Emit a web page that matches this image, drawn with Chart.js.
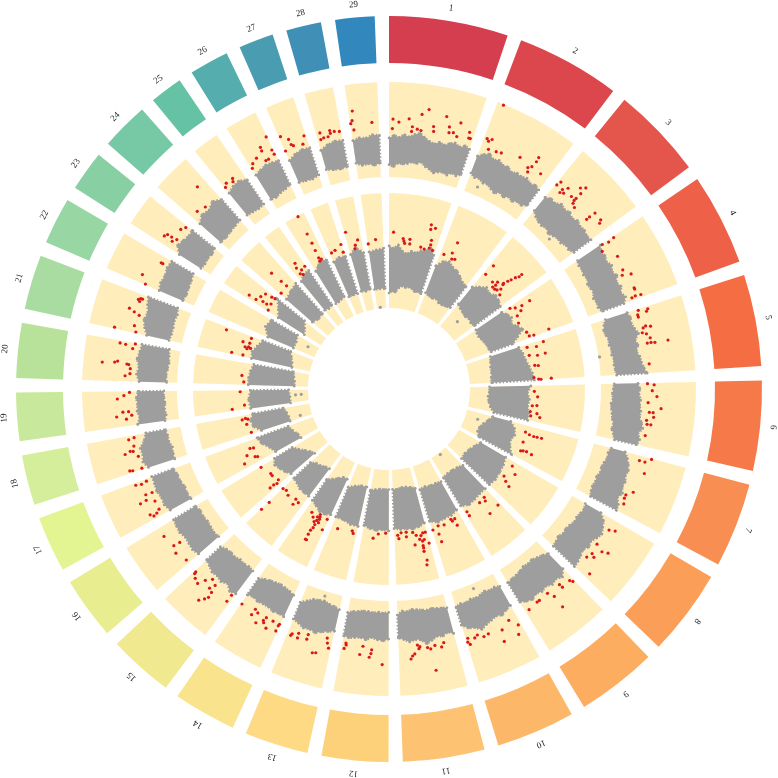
<!DOCTYPE html>
<html><head><meta charset="utf-8"><style>html,body{margin:0;background:#fff}canvas{display:block}</style>
<script src="https://cdn.jsdelivr.net/npm/chart.js@4"></script></head><body>
<canvas id="c" width="778" height="778"></canvas>
<script>
// chromosome lengths (Mb) and the gap between them
const chrLabels=['1','2','3','4','5','6','7','8','9','10','11','12','13','14','15','16','17','18','19','20','21','22','23','24','25','26','27','28','29'];
const chrLen=[156,136.2,121,120,120.1,117.8,110.7,113.3,105.5,103.3,107,87.2,83.5,82.4,85,81.9,73.2,65.8,63.4,72,71.6,61.4,52.5,62.7,42.9,51.7,45.6,45.9,51.5];
const chrGap=18.5;
const chrColors=['#D53E4F','#DC474E','#E4554B','#EE6148','#F46D43','#F67A49','#F98E52','#FB9E58','#FDAD60','#FDB768','#FDC272','#FDD07A','#FDDA83','#F9E48D','#F0E98F','#E8EE8F','#E3F592','#D5EE9B','#C8E99B','#B8E29A','#A9DCA0','#98D6A4','#88CFA4','#77C8A4','#66C2A5','#55AEAD','#4A9DB0','#3F8FB7','#3288BD'];

// grey band envelope per chromosome, outer track (0-10 scale)
const outerHi=[
[4.1,4.4,4.2,4.5,4.3,4.6,4.8,4.4,4.1,3.9,4.2,4.0,4.3,4.5,4.2,4.5,4.3],
[3.9,4.3,4.6,4.2,4.4,4.1,4.2,3.9,4.1,4.0,4.2,3.9,4.1,3.9],
[3.7,4.0,3.9,4.3,4.1,4.3,4.0,4.3,4.1,4.2,4.0,4.1],
[4.6,4.3,4.4,4.2,4.5,4.2,4.5,4.1,4.4,4.1,4.4,4.0],
[4.0,4.2,4.1,4.3,4.6,4.1,4.3,4.0,4.3,4.4,4.6,4.9],
[3.9,4.1,4.0,4.2,4.1,4.3,4.2,4.5,4.7,4.3,4.6,4.4],
[3.4,3.8,4.1,4.3,4.2,4.4,4.3,4.6,4.3,4.7,4.8],
[3.5,4.2,4.5,4.8,4.6,4.3,4.5,4.2,4.4,4.6,4.7],
[4.0,4.6,4.3,4.5,4.2,4.4,4.2,4.5,4.3,4.0],
[3.8,4.0,4.3,4.1,4.3,4.5,4.8,4.4,4.2,3.7],
[4.3,4.0,4.3,4.2,4.5,4.8,4.3,4.2,4.4,4.1,3.9],
[4.0,4.2,4.1,3.9,4.2,4.0,4.1,4.2,4.1],
[3.8,4.0,4.2,4.5,4.3,4.4,4.1,3.9],
[4.1,4.0,4.1,3.9,3.9,4.0,3.8,4.0],
[4.6,4.8,4.3,4.6,4.4,4.5,4.2,4.0],
[4.2,4.4,4.3,4.2,4.4,4.3,4.2],
[4.0,4.3,4.2,4.4,4.3,4.3],
[4.3,4.7,4.5,4.6,4.0,3.7],
[4.4,4.1,4.3,4.2,4.3,4.1],
[4.0,4.3,4.1,4.4,4.2,4.1],
[3.8,4.2,4.5,4.3,4.6,4.8],
[4.0,4.2,4.1,4.3,4.2],
[3.9,4.6,4.4,4.2,4.3],
[4.1,4.6,4.4,4.8,4.3],
[4.3,4.6,4.7,4.3],
[4.2,4.4,4.6,4.5,4.4],
[3.9,4.3,4.5,4.4],
[3.8,4.2,4.4,4.3],
[4.1,4.3,4.2,4.5,4.4]
];
const outerLo=[
[1.3,1.1,1.5,1.4,1.5,1.7,1.6,1.8,1.4,1.2,0.9,1.1,1.2,1.0,1.4,1.2,1.5],
[2.0,1.7,1.8,1.5,1.6,1.3,1.1,1.4,1.2,1.5,1.3,1.6,1.5,1.9],
[1.9,1.5,1.3,1.2,1.4,1.1,1.3,1.5,1.4,1.7,1.6,1.9],
[1.7,1.5,1.6,1.4,1.6,1.3,1.4,1.5,1.2,1.4,1.3,1.6],
[1.6,1.3,1.1,1.2,1.4,1.3,1.5,1.4,1.6,1.5,1.6,1.7],
[1.4,1.3,1.2,1.3,1.1,1.2,1.3,1.4,1.6,1.5,1.8,2.0],
[1.9,1.7,1.8,1.6,1.5,1.6,1.4,1.5,1.4,1.5,1.7],
[1.6,1.8,1.7,1.6,1.7,1.5,1.4,1.5,1.3,1.5,1.6],
[1.8,1.5,1.3,1.1,1.2,1.1,1.3,1.4,1.5,1.6],
[1.5,1.3,1.4,1.2,1.4,1.5,1.4,1.6,1.5,1.7],
[1.5,1.4,1.3,1.2,1.3,1.2,1.1,1.0,1.2,1.1,1.5],
[1.2,1.3,1.2,1.3,1.2,1.2,1.3,1.4,1.6],
[1.5,1.3,1.2,1.0,1.1,1.2,1.6,2.0],
[1.6,1.4,1.3,1.2,1.3,1.4,1.6,1.9],
[1.6,1.5,1.6,1.5,1.7,1.6,1.7,2.0],
[1.4,1.5,1.4,1.3,1.4,1.3,1.5],
[1.5,1.6,1.5,1.7,1.7,1.9],
[1.4,1.4,1.3,1.5,1.5,1.6],
[1.5,1.3,1.4,1.3,1.4,1.4],
[1.1,1.2,1.1,1.0,1.1,1.2],
[1.4,1.3,1.3,1.4,1.3,1.5],
[1.3,1.2,1.3,1.4,1.6],
[1.2,1.1,1.2,1.1,1.3],
[1.2,1.1,1.2,1.3,1.4],
[1.3,1.2,1.1,1.2],
[1.2,1.1,1.3,1.4,1.6],
[1.4,1.3,1.2,1.4],
[1.7,1.5,1.4,1.5],
[1.7,1.4,1.5,1.3,1.5]
];
// grey band envelope per chromosome, inner track
const innerHi=[
[5.4,5.2,5.5,5.0,4.8,5.1,5.0,5.3,5.4,5.7,5.2],
[4.4,5.0,5.2,4.9,4.8,4.5,4.2,4.1],
[4.4,4.8,5.2,5.0,5.3,5.2,5.0],
[4.8,5.1,5.3,5.0,5.4,5.7,5.0,4.4],
[4.8,5.0,5.1,5.3,5.5,5.6],
[5.3,5.0,5.2,5.1,5.3,5.3],
[3.9,4.4,4.6,4.4,4.6,5.0],
[4.7,4.9,5.0,5.1,5.0],
[5.0,5.0,5.1,5.2,4.9],
[5.0,5.2,5.2,5.3,5.0],
[5.0,5.2,5.3,5.2,5.2,5.1],
[5.3,5.2,5.3,5.2,5.0],
[5.2,5.2,5.0,5.0],
[5.0,5.2,5.2,4.9,4.7],
[4.6,4.6,4.6,4.4,4.3],
[4.2,4.5,4.7,4.9,4.6],
[4.2,4.5,5.0,5.2],
[4.6,5.2,5.3,5.0],
[5.1,5.2,5.0],
[5.2,5.2,5.1,4.9],
[5.2,5.3,5.0,4.7],
[4.4,5.0,4.8],
[4.4,4.8,5.4],
[4.8,5.0,5.2],
[5.0,5.4,5.4],
[5.0,5.3,5.7,5.4],
[5.0,5.2,5.1],
[5.1,5.6,5.0],
[5.0,5.1,5.2]
];
const innerLo=[
[1.3,1.5,1.4,1.8,2.0,1.9,2.0,1.9,1.7,1.8,1.7],
[1.9,1.8,1.7,1.8,1.6,1.6,1.7,1.8],
[2.5,2.3,2.2,2.1,2.2,2.1,2.2],
[2.1,2.0,2.0,2.1,2.2,2.3,2.3,2.4],
[2.2,2.1,2.0,2.0,1.9,1.9],
[1.7,1.7,1.6,1.7,1.9,2.3],
[2.3,2.0,1.7,1.5,1.5,1.8],
[2.2,1.9,1.7,1.6,1.7],
[2.2,2.0,1.9,1.9,2.0],
[2.2,2.1,2.1,2.0,2.1],
[1.9,1.7,1.6,1.6,1.7,1.7],
[1.7,1.7,1.7,1.8,1.9],
[1.7,1.7,1.9,2.2],
[1.6,1.6,1.9,2.2,2.5],
[1.6,1.7,1.9,2.0,2.3],
[1.5,1.7,2.0,2.4,2.8],
[1.7,1.8,2.1,2.3],
[2.0,2.0,2.1,2.3],
[1.6,1.6,1.7],
[1.2,1.2,1.3,1.4],
[1.6,1.7,1.9,2.1],
[2.0,2.0,2.2],
[1.7,2.0,2.4],
[1.8,1.6,1.7],
[1.8,1.7,1.8],
[1.7,1.7,1.8,1.9],
[1.7,1.7,1.7],
[1.8,1.7,1.8],
[1.7,1.7,1.7]
];
// stray grey points: [chromosome index, position along chromosome, value]
const outerStray=[[1,.18,.9],[2,.54,.8],[4,.64,.1],[9,.52,.5],[12,.46,.5]];
const innerStray=[[2,.44,1.3],[8,.48,.2],[21,.6,.9],[28,.37,.1],[6,.3,1.1],[18,.61,.6],[18,.6,1.1],[17,.2,1.0]];

// significant SNPs per chromosome: [position along chromosome, value]
const outerRed=[
[[.046,6.1],[.04,5.1],[.115,5.8],[.23,6.2],[.275,5.4],[.27,4.9],[.335,5.2],[.38,5.1],[.37,6.8],[.44,7.4],[.52,5.7],[.53,5.2],[.645,7],[.7,6],[.71,5.4],[.76,5.5],[.815,6.7],[.81,5.2],[.94,6],[.95,5.4],[.97,5.4]],
[[.075,9.9],[.04,6],[.105,6.1],[.07,5.8],[.11,5],[.22,5.1],[.29,5.2],[.54,5.7],[.75,6.7],[.755,6.2],[.74,5.5],[.7,5.2],[.73,4.8],[.89,5.4]],
[[.04,6],[.02,5.5],[.13,5.5],[.13,5.1],[.18,6],[.18,5.3],[.3,5.6],[.37,5.5],[.31,6.9],[.365,7.3],[.37,6.5],[.37,5.8],[.39,5.2],[.45,5],[.72,6.2],[.71,5.5],[.71,5.1],[.85,6.2],[.88,5.9]],
[[.02,6.2],[.035,5.5],[.01,4.8],[.1,4.4],[.29,5.5],[.51,5.3],[.62,5.9],[.58,5],[.83,5.6],[.85,5.6],[.96,5],[.95,5.4],[.96,6]],
[[.02,5.2],[.04,6.2],[.085,5],[.12,5],[.07,6],[.3,5.2],[.3,6],[.28,5.5],[.37,5],[.4,5.4],[.47,5.7],[.54,5.3],[.54,5.7],[.55,6.1],[.55,7.5],[.86,5.2]],
[[.01,4.9],[.03,5.6],[.12,5.4],[.21,5.9],[.31,5],[.39,6.4],[.46,5.2],[.46,5.6],[.53,5.7],[.59,5],[.65,5.5],[.65,5.1],[.83,5.1]],
[[.01,6.3],[.08,5.1],[.08,5.7],[.26,6],[.61,5.6],[.7,5],[.76,5],[.85,5.2]],
[[.18,5.2],[.14,5.8],[.48,5],[.53,5.9],[.49,6.5],[.65,5.2],[.75,5],[.68,5.6],[.92,6.4]],
[[.06,5.4],[.03,5.7],[.23,5.4],[.24,5],[.44,5.6],[.5,4.9],[.69,5],[.74,5],[.44,7],[.93,5.2]],
[[.05,6],[.16,5.1],[.34,5.7],[.39,6.9],[.12,6.9],[.59,5.5],[.68,5.6],[.78,5.2],[.84,5.4],[.96,5.2],[.98,5.6],[.95,5.9]],
[[.21,5],[.26,5.4],[.37,5.1],[.5,5.2],[.45,5.4],[.63,5],[.67,4.8],[.65,5.2],[.42,7.7],[.73,5.7],[.77,5.9],[.8,6.2]],
[[.92,4.8],[.91,5],[.94,5.4],[.6,5.8],[.55,4.9],[.36,5.2],[.37,5.6],[.4,6],[.13,6.7]],
[[.05,5.7],[.13,4.7],[.1,5.2],[.29,6.5],[.36,6.6],[.56,4.9],[.56,5.4],[.77,5.1],[.76,5.6],[.9,5.4],[.92,5.6]],
[[.02,5],[.03,5.2],[.03,5.8],[.18,5],[.35,5],[.38,5.4],[.25,6],[.35,5.6],[.57,5],[.5,6],[.66,4.8],[.67,5.5],[.98,5.1]],
[[.06,5],[.06,5.8],[.47,5.3],[.6,5],[.41,6.7],[.43,6.1],[.52,7.6],[.88,6.2],[.77,6.4],[.97,5.7],[.96,5.9],[.45,7.1],[.52,5.9],[.7,5.6]],
[[.08,5.6],[.34,6],[.5,5.7],[.48,5],[.79,6]],
[[.16,5],[.07,5.8],[.14,6.1],[.1,5.4],[.48,6.5],[.5,5.8],[.39,5],[.63,5.6],[.62,4.9],[.94,6.2],[.91,5.6],[.94,5]],
[[.04,5],[.05,6],[.07,6.3],[.53,6.3],[.58,5.7],[.39,5],[.56,5.4],[.7,5.2],[.9,5.6],[.93,5]],
[[.29,6.5],[.2,5.5],[.3,4.9],[.41,5.8],[.41,5.2],[.79,6.3],[.88,5.6],[.97,5]],
[[.14,5.5],[.2,5],[.33,5],[.43,8],[.46,6.7],[.49,6.4],[.44,5.4],[.43,5.2],[.94,6.4],[.93,5.8],[.85,5],[.98,4.8]],
[[.03,5],[.18,5.3],[.03,7.3],[.47,5.1],[.52,5.7],[.57,6.3],[.81,5.5],[.89,5.3],[.89,5.5],[.85,5.7]],
[[.02,5.6],[.24,6.3],[.8,4.9],[.8,5.1]],
[[.26,5.3],[.26,6.3],[.36,6.1],[.37,5.6],[.4,5],[.77,5.3],[.93,5]],
[[.23,5.2],[.49,4.9],[.73,7]],
[[.52,5.3],[.45,5],[.18,5.3],[.04,5]],
[[.97,7.2],[.64,6.5],[.62,6.1],[.34,5.7],[.95,5.7],[.96,5.2],[.59,5],[.7,5],[.13,5.4],[.03,5]],
[[.06,6.6],[.31,6],[.33,5.4],[.4,5.2],[.93,5.8],[.78,5],[.02,5]],
[[.16,5.6],[.13,4.9],[.56,5.6],[.56,5.3],[.73,5.4],[.93,5.3],[.44,5],[.26,5]],
[[.13,7.2],[.08,6.2],[.02,5.9],[.1,5.2],[.76,5.8]]
];
const innerRed=[
[[.09,6.6],[.31,5.9],[.29,6.1],[.33,5.7],[.43,6.1],[.44,5.7],[.78,7.7],[.79,7.3],[.87,7.5],[.86,6.4],[.87,6],[.68,5.6],[.86,5.7],[.94,5.6],[.76,5.5]],
[[.27,7],[.26,6],[.09,5.6],[.38,5.6],[.31,5.5]],
[[.08,7],[.07,6],[.34,5.9],[.44,6.2],[.58,6.4],[.7,8.2],[.7,7.9],[.66,7.6],[.63,7.2],[.6,6.9],[.57,6.5],[.46,5.9],[.52,5.6],[.58,5.7],[.63,6],[.73,5.6],[.44,5.6]],
[[.15,7.4],[.15,6.6],[.11,6],[.04,5.6],[.25,6.3],[.32,5.8],[.51,5.6],[.96,7.8],[.83,5.9],[.95,6],[.97,6.4]],
[[.05,7],[.07,5.5],[.12,6.3],[.3,5.5],[.35,6.2],[.34,6.9],[.62,6.1],[.6,5.8],[.93,5.6],[.98,6],[.99,6.2],[.98,7.1]],
[[.16,5.6],[.57,5.5],[.55,5.9],[.31,5.9],[.74,5.4],[.77,6],[.86,6.3],[.86,5.5]],
[[.2,5.4],[.24,5.8],[.25,6.2],[.24,6.5],[.23,6.9],[.51,5.5],[.78,5.6],[.75,5.8],[.73,6.1],[.75,6.6]],
[[.13,5.6],[.29,6.2],[.51,5.5],[.6,5.9],[.66,6.4]],
[[.22,5.5],[.27,5.8],[.07,6.8],[.44,5.6],[.4,6.9],[.93,5.6],[.93,6]],
[[.22,6.2],[.2,5.6],[.3,5.7],[.32,5.5],[.59,5.7],[.78,5.6],[.84,6.3],[.84,7],[.98,5.8]],
[[.05,5.8],[.13,5.8],[.2,6],[.13,6.4],[.02,6.8],[.19,6.5],[.2,7.1],[.21,7.4],[.18,8.2],[.21,8.6],[.42,6.7],[.43,5.6],[.63,5.5],[.64,5.9],[.79,5.5],[.9,5.7],[.87,6],[.26,6.3],[.2,6.9],[.34,5.9]],
[[.58,6],[.4,5.6],[.12,5.5]],
[[.76,5.9],[.19,5.7],[.13,5.9]],
[[.06,5.5],[.06,6.5],[.4,5.4],[.45,5.7],[.41,6],[.4,6.4],[.4,6.7],[.44,7],[.44,7.4],[.4,7.9],[.44,7.9],[.31,6.1],[.6,5.9],[.74,5.6],[.36,5.6],[.34,5.8],[.48,6.2]],
[[.18,5.6],[.3,6],[.34,5.5],[.67,5.7],[.85,5.5],[.99,5.6],[.97,7.3],[.98,8.2]],
[[.16,5.4],[.08,5.7],[.12,6],[.12,6.4],[.45,5.6],[.55,5.6],[.97,6]],
[[.25,6],[.2,5.8],[.44,6.6],[.18,7.1],[.67,6.1],[.63,5.8]],
[[.53,5.7],[.77,5.5],[.83,5.7],[.79,6],[.08,5.5]],
[[.09,6.7],[.23,5.6],[.93,5.9]],
[[.42,5.8],[.13,5.6]],
[[.08,7],[.89,8],[.4,5.8],[.5,5.7],[.46,6],[.65,6.3],[.68,5.7],[.46,5.5],[.91,5.7],[.08,6]],
[],
[[.2,7.6],[.21,6.9],[.5,6.7],[.79,6.5],[.34,6.3],[.34,5.9],[.08,5.5],[.5,5.6],[.87,5.9],[.92,5.6]],
[[.47,7.3],[.52,6.2],[.55,5.6],[.07,5.5]],
[[.36,6.2],[.48,6.6],[.58,5.8],[.94,5.9],[.32,5.6],[.46,5.4]],
[[.67,9.9],[.67,8.2],[.67,7.3],[.64,6.6],[.61,5.9],[.72,5.7],[.57,5.6]],
[[.96,6.2],[.43,5.9],[.13,5.8],[.94,5.5]],
[[.09,7.1],[.75,6.2],[.51,5.8],[.42,5.5]],
[[.03,5.7],[.52,6]]
];

// track geometry: inner radius, units per chart unit
const outerTrack={r0:212,k:9.5},innerTrack={r0:81,k:11.5};
const startAngle=0;
const total=chrLen.reduce((a,b)=>a+b,0)+chrGap*chrLen.length;
let pos=0;
const chrStart=chrLen.map(l=>{const v=pos;pos+=l+chrGap;return v});

function polar(c,f,v,t){
  const a=((chrStart[c]+f*chrLen[c])/total*360+startAngle)*Math.PI/180;
  const r=t.r0+v*t.k;
  return {x:r*Math.sin(a),y:r*Math.cos(a)};
}
function bandPoints(hi,lo,t){
  const pts=[];
  hi.forEach((h,c)=>{
    h.forEach((v,i)=>pts.push(polar(c,i/(h.length-1),v,t)));
    const l=lo[c];
    for(let i=l.length-1;i>=0;i--)pts.push(polar(c,i/(l.length-1),l[i],t));
    pts.push({x:null,y:null});
  });
  return pts;
}
function redPoints(list,t){
  const pts=[];
  list.forEach((chr,c)=>chr.forEach(p=>pts.push(polar(c,p[0],p[1],t))));
  return pts;
}

const ringData=[];
chrLen.forEach(l=>ringData.push(l,chrGap));
const clear='rgba(0,0,0,0)';
const colorRing=[],trackRing=[];
chrColors.forEach(c=>{colorRing.push(c,clear);trackRing.push('#FFEDBB',clear)});

function ring(weight,data,colors){
  return {type:'doughnut',order:10,weight,cutout:81,rotation:startAngle,borderWidth:0,data,backgroundColor:colors};
}
// the dashed edge and vertex dots give the band its speckled outline
function band(data){
  return {type:'scatter',order:5,weight:0,showLine:true,fill:'shape',clip:false,backgroundColor:'#9E9E9E',borderColor:'#9E9E9E',borderWidth:2.5,borderDash:[1.5,2],pointRadius:1.3,pointBackgroundColor:'#9E9E9E',pointBorderWidth:0,data};
}
function dots(data,color,order){
  return {type:'scatter',order,weight:0,clip:false,backgroundColor:color,pointBorderWidth:0,pointRadius:1.6,data};
}

const chrLabelPlugin={
  id:'chrLabels',
  afterDraw(chart){
    const {ctx}=chart;
    const cx=chart.chartArea.left+chart.chartArea.width/2,cy=chart.chartArea.top+chart.chartArea.height/2;
    ctx.save();
    ctx.font="9px 'Liberation Serif'";
    ctx.fillStyle='#222';
    ctx.textAlign='center';
    ctx.textBaseline='middle';
    chrLabels.forEach((t,c)=>{
      const a=((chrStart[c]+chrLen[c]/2)/total*360+startAngle)*Math.PI/180;
      ctx.save();
      ctx.translate(cx+386*Math.sin(a),cy-386*Math.cos(a));
      ctx.rotate(a);
      ctx.fillText(t,0,0);
      ctx.restore();
    });
    ctx.restore();
  }
};

new Chart(document.getElementById('c'),{
  type:'scatter',
  data:{datasets:[
    ring(47,ringData,colorRing),
    ring(19,[1],[clear]),
    ring(95,ringData,trackRing),
    ring(16,[1],[clear]),
    ring(115,ringData,trackRing),
    band(bandPoints(outerHi,outerLo,outerTrack)),
    band(bandPoints(innerHi,innerLo,innerTrack)),
    dots(outerStray.map(p=>polar(p[0],p[1],p[2],outerTrack)),'#9E9E9E',4),
    dots(innerStray.map(p=>polar(p[0],p[1],p[2],innerTrack)),'#9E9E9E',4),
    dots(redPoints(outerRed,outerTrack),'#D7191C',1),
    dots(redPoints(innerRed,innerTrack),'#D7191C',1)
  ]},
  plugins:[chrLabelPlugin],
  options:{
    responsive:false,
    animation:false,
    layout:{padding:16},
    plugins:{legend:{display:false},tooltip:{enabled:false}},
    scales:{x:{display:false,min:-373,max:373},y:{display:false,min:-373,max:373}}
  }
});
</script></body></html>
